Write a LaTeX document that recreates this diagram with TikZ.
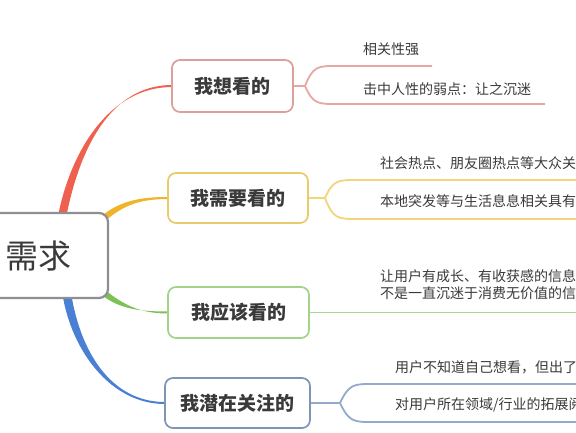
\documentclass[tikz,border=0pt]{standalone}
\usepackage{fontspec}
\setmainfont{Noto Sans CJK SC}
\usetikzlibrary{calc}
\definecolor{txt}{HTML}{3A3A3A}
\definecolor{rootc}{HTML}{8E8E94}
\definecolor{redc}{HTML}{F0604E}
\definecolor{yelc}{HTML}{F0B429}
\definecolor{grnc}{HTML}{7DC154}
\definecolor{bluc}{HTML}{4A80D4}
\definecolor{b1c}{HTML}{D9A09C}
\definecolor{b2c}{HTML}{E9CC6A}
\definecolor{b3c}{HTML}{A3D289}
\definecolor{b4c}{HTML}{7E95B3}
\definecolor{l1c}{HTML}{E8A8A2}
\definecolor{l2c}{HTML}{F2D57A}
\definecolor{l3c}{HTML}{A8D890}
\definecolor{l4c}{HTML}{93AACB}
% tapered connector: color, start, c1, c2, end, start half-offset, end half-offset
\newcommand{\taper}[7]{%
  \fill[#1] ($(#2)+(#6)$) .. controls ($(#3)+(#6)$) and ($(#4)+(#7)$) .. ($(#5)+(#7)$)
    -- ($(#5)-(#7)$) .. controls ($(#4)-(#7)$) and ($(#3)-(#6)$) .. ($(#2)-(#6)$) -- cycle;}
\begin{document}
\begin{tikzpicture}[x=1pt,y=-1pt,
  branch/.style={draw, line width=1.7pt, rounded corners=8pt, fill=white, text=txt,
    font=\fontsize{19}{22}\selectfont\bfseries, inner sep=0pt, minimum height=50pt},
  leaf/.style={anchor=west, text=txt, font=\fontsize{14}{17}\selectfont, inner sep=0pt, align=left},
  twig/.style={line width=1.8pt}
]
\useasboundingbox (0,0) rectangle (576,432);
\clip (0,0) rectangle (576,432);
\fill[white] (0,0) rectangle (576,432);

% start points of the main connectors (inside the root box)
\coordinate (s1) at (62,217);
\coordinate (s2) at (104,218);
\coordinate (s3) at (104,293);
\coordinate (s4) at (67,295);

% branch box centres and left anchors
\path (232.5,86) coordinate (p1) (238,198) coordinate (p2) (238.5,312.5) coordinate (p3) (237.5,403) coordinate (p4);
\coordinate (w1) at (172,86);
\coordinate (w2) at (168,198);
\coordinate (w3) at (168,312.5);
\coordinate (w4) at (165,403);

\taper{redc}{s1}{75,150}{110,86}{w1}{-4.2,0}{0,1.0}
\taper{yelc}{s2}{122,203}{140,198}{w2}{2.1,2.1}{0,1.0}
\taper{grnc}{s3}{122,307}{140,312.5}{w3}{2.1,-2.1}{0,1.0}
\taper{bluc}{s4}{76,350}{110,403}{w4}{-4.4,0}{0,1.0}

% root
\node[draw=rootc, line width=2.2pt, rounded corners=9pt, fill=white, minimum width=123pt,
  minimum height=85pt, inner sep=0pt] (root) at (46.5,255.5) {};
\node[anchor=east, text=txt, font=\fontsize{33}{36}\selectfont, inner sep=0pt] (roottxt) at (72,256) {用户需求};

% branches
\node[branch, draw=b1c, minimum width=121pt, minimum height=52pt] (b1) at (p1) {我想看的};
\node[branch, draw=b2c, minimum width=140pt] (b2) at (p2) {我需要看的};
\node[branch, draw=b3c, minimum width=141pt, minimum height=51pt] (b3) at (p3) {我应该看的};
\node[branch, draw=b4c, minimum width=145pt] (b4) at (p4) {我潜在关注的};

% branch 1 twigs
\coordinate (f1) at (305,86);
\coordinate (e11) at (432,66);
\coordinate (e12) at (545,104);
\draw[twig, l1c] (b1.east) -- (f1);
\draw[twig, l1c] (f1) .. controls (313,66) and (318,66) .. (336,66) -- (e11);
\draw[twig, l1c] (f1) .. controls (313,104) and (318,104) .. (336,104) -- (e12);
\node[leaf] (t11) at (363,49) {相关性强};
\node[leaf] (t12) at (363,89) {击中人性的弱点：让之沉迷};

% branch 2 twigs
\coordinate (f2) at (325,198);
\coordinate (e21) at (600,180);
\coordinate (e22) at (600,219);
\draw[twig, l2c] (b2.east) -- (f2);
\draw[twig, l2c] (f2) .. controls (333,180) and (338,180) .. (357,180) -- (e21);
\draw[twig, l2c] (f2) .. controls (333,219) and (338,219) .. (357,219) -- (e22);
\node[leaf] (t21) at (380,163) {社会热点、朋友圈热点等大众关注的};
\node[leaf] (t22) at (380,201) {本地突发等与生活息息相关具有};

% branch 3 twig
\coordinate (e31) at (600,312.5);
\draw[twig, l3c] (b3.east) -- (e31);
\node[leaf] (t31) at (380,284.5) {让用户有成长、有收获感的信息\\不是一直沉迷于消费无价值的信息};

% branch 4 twigs
\coordinate (f4) at (340,403);
\coordinate (e41) at (600,384);
\coordinate (e42) at (600,422);
\draw[twig, l4c] (b4.east) -- (f4);
\draw[twig, l4c] (f4) .. controls (349,384) and (354,384) .. (372,384) -- (e41);
\draw[twig, l4c] (f4) .. controls (349,422) and (354,422) .. (372,422) -- (e42);
\node[leaf] (t41) at (395,367) {用户不知道自己想看，但出了之后会看};
\node[leaf] (t42) at (395,405) {对用户所在领域/行业的拓展阅读};
\end{tikzpicture}
\end{document}
